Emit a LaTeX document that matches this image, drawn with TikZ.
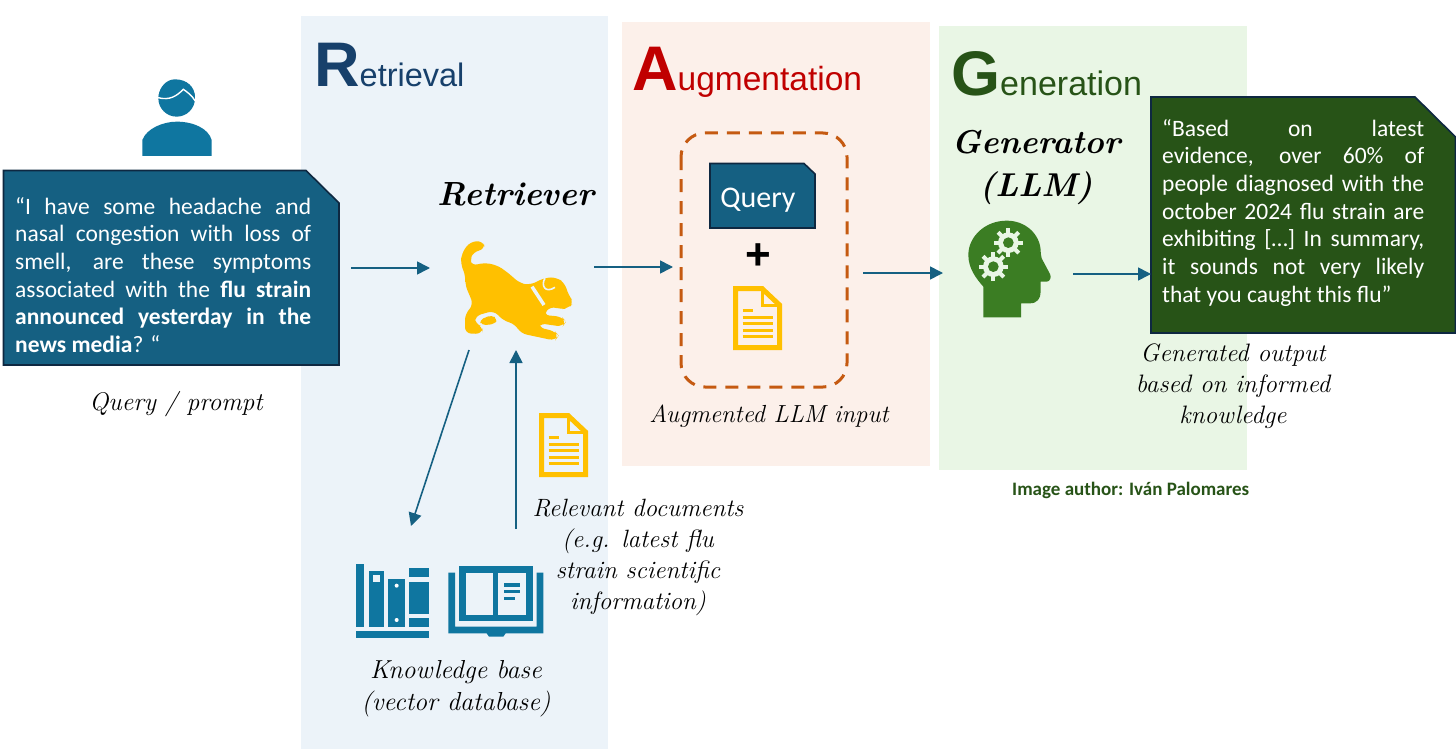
\documentclass[tikz,border=0pt]{standalone}
\usepackage{fontspec}
\usetikzlibrary{arrows.meta}
\newfontfamily\bodyf{Carlito}
\newfontfamily\headf{Liberation Sans}
\definecolor{retbg}{HTML}{ECF3F9}
\definecolor{augbg}{HTML}{FCF0EA}
\definecolor{genbg}{HTML}{E9F6E5}
\definecolor{flowc}{HTML}{156082}
\definecolor{iconb}{HTML}{0F76A0}
\definecolor{darkln}{HTML}{0E2841}
\definecolor{gengr}{HTML}{275317}
\definecolor{headgr}{HTML}{3B7D23}
\definecolor{docy}{HTML}{FFC000}
\definecolor{retblue}{HTML}{17406B}
\definecolor{augred}{HTML}{C00000}
\definecolor{dashor}{HTML}{C55A11}
\newcommand\jl[1]{\hbox to\hsize{\spaceskip=0.2em plus 1fil\relax #1}}
\newcommand\lastl[1]{\hbox to\hsize{#1\hfil}}
\newcommand\docicon[2]{%
  \begin{scope}[shift={(#1,#2)}]
    \draw[docy,line width=5pt,miter limit=10] (2.5,2.5) -- (29,2.5) -- (46.5,19) -- (46.5,61.5) -- (2.5,61.5) -- cycle;
    \draw[docy,line width=3pt] (29,2.5) -- (29,19) -- (46.5,19);
    \draw[docy,line width=3pt] (9.5,24.7) -- (20,24.7) (9.5,31) -- (40,31) (9.5,37.4) -- (40,37.4) (9.5,44) -- (40,44) (9.5,50.2) -- (40,50.2);
  \end{scope}}
\newcommand\gear[2]{%
  \fill[genbg] (#1,#2) circle (31);
  \foreach \a in {0,45,...,315}{\fill[genbg,shift={(#1,#2)},rotate=\a] (-6,-44) rectangle (6,0);}
  \fill[headgr] (#1,#2) circle (16);}
\tikzset{
  flow/.style={flowc,line width=1.6pt,-{Triangle[length=13pt,width=13pt]}},
  hand/.style={font=\itshape\fontsize{#1}{#1}\selectfont,black,inner sep=0pt,align=center},
  callout/.style={line width=1.6pt,draw=darkln},
  panel/.style={draw=none}
}
\begin{document}
\begin{tikzpicture}[x=1pt,y=-1pt]
\useasboundingbox (0,0) rectangle (1456,749);
\fill[white] (0,0) rectangle (1456,749);
% panels
\fill[retbg,panel] (301,16) rectangle (608,749);
\fill[augbg,panel] (622,22) rectangle (930,466);
\fill[genbg,panel] (939,26) rectangle (1247,470);
% titles
\node[anchor=base west,inner sep=0pt,text=retblue] (tr) at (314,87) {\headf\fontsize{63}{63}\selectfont\bfseries R\mdseries\fontsize{32.5}{33}\selectfont etrieval};
\node[anchor=base west,inner sep=0pt,text=augred] (ta) at (632,91) {\headf\fontsize{63}{63}\selectfont\bfseries A\mdseries\fontsize{33.5}{34}\selectfont ugmentation};
\node[anchor=base west,inner sep=0pt,text=gengr] (tg) at (951,96) {\headf\fontsize{63}{63}\selectfont\bfseries G\mdseries\fontsize{34}{34}\selectfont eneration};
% person
\begin{scope}[shift={(0,60)},scale=1/3]
  \fill[iconb] (530,115) circle (55);
  \fill[iconb] (476,110) .. controls (478,80) and (500,58) .. (525,58) .. controls (560,58) and (585,80) .. (585,112) -- cycle;
  \draw[white,line width=1.4pt] (474,113) .. controls (510,122) and (530,108) .. (550,88) .. controls (560,95) and (575,105) .. (585,122);
  \fill[iconb] (427,288) -- (427,240) .. controls (440,205) and (490,185) .. (530,185) .. controls (580,185) and (625,205) .. (635,240) -- (635,288) -- cycle;
\end{scope}
% query callout
\draw[callout,fill=flowc] (3.5,170.5) -- (306,170.5) -- (339,203) -- (339,365) -- (3.5,365) -- cycle;
\node[anchor=base west,inner sep=0pt,text=white] (qtext) at (15,214) {\vtop{\hsize=296pt\baselineskip=27.7pt\bodyf\fontsize{23.5}{27.7}\selectfont
  \jl{“I have some headache and}
  \jl{nasal congestion with loss of}
  \jl{smell, are these symptoms}
  \jl{associated with the \textbf{flu strain}}
  \jl{\textbf{announced yesterday in the}}
  \lastl{\textbf{news media}? “}}};
\node[hand=25.5] (qlab) at (176,404) {Query / prompt};
% dog
\begin{scope}[shift={(420,170)},scale=1/3]
  \fill[docy,rounded corners=6pt] (190,213) -- (150,215) -- (125,250) -- (122,282) -- (137,318) -- (135,345) -- (150,378) -- (160,405) -- (135,432) -- (135,490) -- (185,492) -- (190,470) -- (165,462) -- (165,438) -- (222,422) -- (250,452) -- (285,462) -- (302,490) -- (405,512) -- (416,497) -- (405,484) -- (355,472) -- (358,460) -- (428,470) -- (438,455) -- (425,440) -- (370,435) -- (392,408) -- (420,418) -- (445,415) -- (462,397) -- (445,375) -- (435,340) -- (410,322) -- (375,323) -- (330,345) -- (300,340) -- (260,305) -- (230,285) -- (190,278) -- (155,288) -- (150,270) -- (160,245) -- (195,238) -- cycle;
  \fill[docy,rounded corners=4pt] (178,450) -- (215,435) -- (232,447) -- (225,462) -- (185,466) -- cycle;
  \draw[retbg,line width=3.5pt] (336,350) -- (372,405);
  \draw[retbg,line width=1.6pt] (375,325) .. controls (362,345) and (375,372) .. (405,352);
\end{scope}
\node[hand=33.5] (retr) at (516,194) {\bfseries Retriever};
% doc near retriever
\docicon{539}{413}
\node[hand=25] (rel) at (638,557) {Relevant documents\\[6pt](e.g. latest flu\\[6pt]strain scientific\\[6pt]information)};
% knowledge base icons
\begin{scope}[shift={(340,400)},scale=1/3]
  \fill[iconb] (47,492) rectangle (73,680);
  \fill[iconb] (86,512) rectangle (132,680);
  \fill[retbg] (99,525) rectangle (119,545);
  \fill[iconb] (144,538) rectangle (196,680);
  \fill[white] (170,557) circle (6) (170,660) circle (6);
  \fill[iconb] (208,505) rectangle (267,532);
  \fill[iconb] (208,545) rectangle (267,642);
  \fill[iconb] (208,655) rectangle (267,680);
  \fill[iconb] (47,693) rectangle (267,713);
  \fill[iconb] (325,518) -- (345,518) -- (345,680) -- (590,680) -- (590,518) -- (610,518) -- (610,700) -- (497,700) -- (490,710) -- (447,710) -- (440,700) -- (325,700) -- cycle;
  \fill[iconb] (357,498) rectangle (578,664);
  \fill[retbg] (378,518) rectangle (460,644);
  \fill[retbg] (475,518) rectangle (558,644);
  \fill[iconb] (493,550) rectangle (540,560);
  \fill[iconb] (493,570) rectangle (540,580);
  \fill[iconb] (493,590) rectangle (525,600);
\end{scope}
\node[hand=26] (kb) at (456,689) {Knowledge base\\[6pt](vector database)};
% augmentation
\draw[dashor,line width=3pt,rounded corners=24pt,dash pattern=on 13pt off 9pt] (681,133) rectangle (847,387);
\draw[callout,fill=flowc] (710,163.5) -- (804,163.5) -- (815,174) -- (815,228) -- (710,228) -- cycle;
\node[text=white,inner sep=0pt] (qbox) at (758,200) {\bodyf\fontsize{30}{30}\selectfont Query};
\node[inner sep=0pt,font=\headf\bfseries\fontsize{44}{44}\selectfont] (plus) at (758,257) {+};
\docicon{733}{286}
\node[hand=24.7] (auglab) at (769,416) {Augmented LLM input};
% generation
\node[hand=33] (gen) at (1036,168) {\bfseries Generator\\[10pt]\bfseries(LLM)};
\begin{scope}[shift={(950,90)},scale=1/3]
  \fill[headgr] (100,682) -- (213,682) -- (213,640) -- (240,640) .. controls (262,640) and (272,625) .. (272,605) -- (272,575) -- (290,575) .. controls (300,575) and (305,562) .. (300,552) -- (275,505) .. controls (272,495) and (272,485) .. (272,480) .. controls (268,430) and (225,392) .. (170,392) .. controls (105,392) and (55,440) .. (55,495) .. controls (55,535) and (78,565) .. (100,590) -- cycle;
  \gear{175}{458}
  \gear{130}{530}
\end{scope}
\draw[callout,fill=gengr] (1151,97) -- (1415,97) -- (1455.5,137) -- (1455.5,333) -- (1151,333) -- cycle;
\node[anchor=base west,inner sep=0pt,text=white] (gtext) at (1162,136) {\vtop{\hsize=262pt\baselineskip=27.7pt\bodyf\fontsize{23.5}{27.7}\selectfont
  \jl{“Based on latest}
  \jl{evidence, over 60\% of}
  \jl{people diagnosed with the}
  \jl{october 2024 flu strain are}
  \jl{exhibiting […] In summary,}
  \jl{it sounds not very likely}
  \lastl{that you caught this flu”}}};
\node[hand=25.2] (outlab) at (1233,386) {Generated output\\[6pt]based on informed\\[6pt]knowledge};
\node[anchor=base west,inner sep=0pt,text=gengr] (credit) at (1012,495) {\bodyf\bfseries\fontsize{19}{19}\selectfont Image author: Iván Palomares};
% connectors
\coordinate (a1s) at (351,268); \coordinate (a1e) at (430,268);
\coordinate (a2s) at (594,267); \coordinate (a2e) at (673,267);
\coordinate (a3s) at (863,273); \coordinate (a3e) at (943,273);
\coordinate (a4s) at (1073,274); \coordinate (a4e) at (1151,274);
\coordinate (a5s) at (469,350); \coordinate (a5e) at (411,526);
\coordinate (a6s) at (516,529); \coordinate (a6e) at (516,350);
\draw[flow] (a1s) -- (a1e);
\draw[flow] (a2s) -- (a2e);
\draw[flow] (a3s) -- (a3e);
\draw[flow] (a4s) -- (a4e);
\draw[flow] (a5s) -- (a5e);
\draw[flow] (a6s) -- (a6e);
\end{tikzpicture}
\end{document}
